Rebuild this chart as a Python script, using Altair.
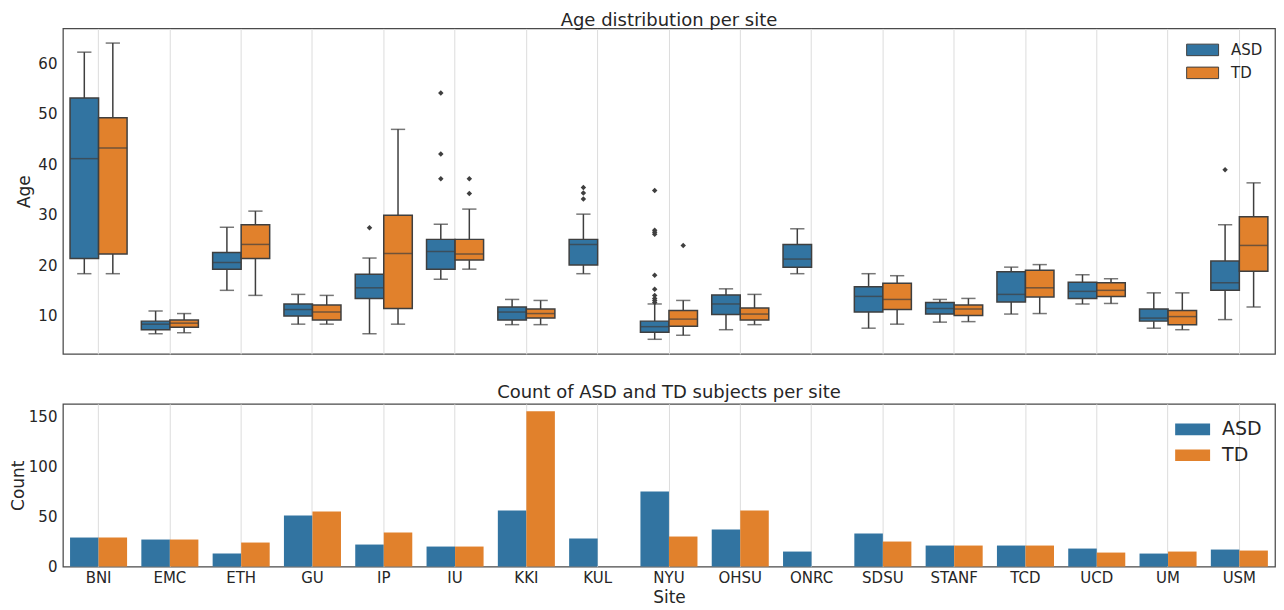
import altair as alt
import pandas as pd

sites = ["BNI", "EMC", "ETH", "GU", "IP", "IU", "KKI", "KUL", "NYU", "OHSU",
         "ONRC", "SDSU", "STANF", "TCD", "UCD", "UM", "USM"]
groups = ["ASD", "TD"]

# ---- Age box statistics (lower whisker, Q1, median, Q3, upper whisker)
asd_sites = sites
asd_lo = [18.3, 6.4, 15.0, 8.3, 6.4, 17.2, 8.2, 18.3, 5.3, 7.2, 18.3, 7.5, 8.7, 10.3, 12.3, 7.5, 9.2]
asd_q1 = [21.3, 7.2, 19.2, 9.9, 13.4, 19.2, 9.1, 20.0, 6.7, 10.2, 19.6, 10.7, 10.3, 12.7, 13.4, 8.9, 15.0]
asd_med = [41.1, 8.3, 20.5, 11.2, 15.5, 22.7, 10.7, 24.1, 7.8, 12.3, 21.2, 13.8, 11.4, 14.2, 14.8, 9.5, 16.5]
asd_q3 = [53.1, 8.9, 22.5, 12.3, 18.2, 25.1, 11.7, 25.1, 8.9, 14.1, 24.1, 15.7, 12.6, 18.7, 16.6, 11.3, 20.8]
asd_hi = [62.2, 10.9, 27.5, 14.2, 21.4, 28.1, 13.2, 30.1, 12.3, 15.3, 27.2, 18.3, 13.2, 19.6, 18.1, 14.5, 28.0]

td_sites = ["BNI", "EMC", "ETH", "GU", "IP", "IU", "KKI", "NYU", "OHSU",
            "SDSU", "STANF", "TCD", "UCD", "UM", "USM"]
td_lo = [18.3, 6.6, 14.0, 8.3, 8.3, 19.2, 8.2, 6.1, 8.2, 8.3, 8.8, 10.4, 12.4, 7.2, 11.7]
td_q1 = [22.2, 7.7, 21.3, 9.1, 11.4, 21.0, 9.5, 7.9, 9.1, 11.2, 10.0, 13.7, 13.8, 8.2, 18.8]
td_med = [43.2, 8.5, 24.1, 10.7, 22.3, 22.2, 10.4, 9.3, 10.3, 13.2, 11.3, 15.5, 15.0, 9.8, 23.9]
td_q3 = [49.2, 9.1, 28.0, 12.1, 29.9, 25.1, 11.3, 11.0, 11.5, 16.4, 12.1, 19.0, 16.5, 11.0, 29.6]
td_hi = [64.0, 10.4, 30.7, 14.0, 46.9, 31.1, 13.0, 13.0, 14.2, 17.9, 13.4, 20.1, 17.3, 14.5, 36.3]

# ---- outliers
out_site = ["IP", "IU", "IU", "IU", "IU", "IU", "KUL", "KUL", "KUL",
            "NYU", "NYU", "NYU", "NYU", "NYU", "NYU", "NYU", "NYU", "NYU", "NYU",
            "NYU", "USM"]
out_group = ["ASD", "ASD", "ASD", "ASD", "TD", "TD", "ASD", "ASD", "ASD",
             "ASD", "ASD", "ASD", "ASD", "ASD", "ASD", "ASD", "ASD", "ASD", "ASD",
             "TD", "ASD"]
out_age = [27.4, 54.1, 42.0, 37.1, 37.1, 34.2, 35.4, 34.3, 33.1,
           34.8, 26.9, 26.5, 26.1, 18.0, 15.2, 14.0, 13.4, 13.0, 12.6,
           23.9, 38.9]

# ---- subject counts
asd_count = [29, 27, 13, 51, 22, 20, 56, 28, 75, 37, 15, 33, 21, 21, 18, 13, 17]
td_count = [29, 27, 24, 55, 34, 20, 155, 0, 30, 56, 0, 25, 21, 21, 14, 15, 16]

box = pd.concat([
    pd.DataFrame({"site": asd_sites, "group": "ASD", "lo": asd_lo, "q1": asd_q1,
                  "med": asd_med, "q3": asd_q3, "hi": asd_hi}),
    pd.DataFrame({"site": td_sites, "group": "TD", "lo": td_lo, "q1": td_q1,
                  "med": td_med, "q3": td_q3, "hi": td_hi}),
], ignore_index=True)
outliers = pd.DataFrame({"site": out_site, "group": out_group, "age": out_age})
counts = pd.concat([
    pd.DataFrame({"site": sites, "group": "ASD", "count": asd_count}),
    pd.DataFrame({"site": sites, "group": "TD", "count": td_count}),
], ignore_index=True)

# ---- style
FONT = "DejaVu Sans"
TXT = "#262626"
EDGE = "#3f3f3f"
GRID = "#dcdcdc"
PALETTE = ["#3274a1", "#e1812c"]
W = 1214
H1 = 326
H2 = 163
step = W / len(sites)
box_w = step * 0.8 / 2
cap_w = box_w / 2

color_scale = alt.Scale(domain=groups, range=PALETTE)
x_scale = alt.Scale(domain=sites, paddingInner=0.2, paddingOuter=0.1)
off_scale = alt.Scale(domain=groups, paddingInner=0, paddingOuter=0)

x_top = alt.X("site:N", scale=x_scale, sort=sites,
              axis=alt.Axis(labels=False, ticks=False, domain=False, title=None,
                            grid=True, gridColor=GRID, gridWidth=1))
xoff = alt.XOffset("group:N", scale=off_scale)
age_scale = alt.Scale(domain=[2.4, 66.9], nice=False, zero=False)
age_axis = alt.Axis(values=[10, 20, 30, 40, 50, 60], title="Age", grid=False,
                    ticks=False, domain=False, labelPadding=6, minExtent=0,
                    titlePadding=4, labelFontSize=15, titleFontSize=17)

boxes = alt.Chart(box).mark_bar(stroke=EDGE, strokeWidth=1.5).encode(
    x=x_top, xOffset=xoff,
    y=alt.Y("q1:Q", scale=age_scale, axis=age_axis),
    y2="q3:Q",
    color=alt.Color("group:N", scale=color_scale, legend=alt.Legend(
        title=None, orient="none", legendX=1133, legendY=13,
        symbolType="M-2,-0.72H2V0.72H-2Z", symbolSize=256,
        symbolStrokeColor=EDGE, symbolStrokeWidth=1,
        labelFontSize=15, labelColor=TXT, labelFont=FONT,
        labelOffset=20, rowPadding=6, padding=0)),
)
whisk_lo = alt.Chart(box).mark_rule(color=EDGE, strokeWidth=1.5).encode(
    x=x_top, xOffset=xoff,
    y=alt.Y("lo:Q", scale=age_scale, axis=age_axis), y2="q1:Q")
whisk_hi = alt.Chart(box).mark_rule(color=EDGE, strokeWidth=1.5).encode(
    x=x_top, xOffset=xoff,
    y=alt.Y("q3:Q", scale=age_scale, axis=age_axis), y2="hi:Q")
cap_lo = alt.Chart(box).mark_tick(color=EDGE, size=cap_w, thickness=1.5,
                                  orient="horizontal").encode(
    x=x_top, xOffset=xoff, y=alt.Y("lo:Q", scale=age_scale, axis=age_axis))
cap_hi = alt.Chart(box).mark_tick(color=EDGE, size=cap_w, thickness=1.5,
                                  orient="horizontal").encode(
    x=x_top, xOffset=xoff, y=alt.Y("hi:Q", scale=age_scale, axis=age_axis))
median = alt.Chart(box).mark_tick(color=EDGE, size=box_w, thickness=1.5,
                                  orient="horizontal").encode(
    x=x_top, xOffset=xoff, y=alt.Y("med:Q", scale=age_scale, axis=age_axis))
fliers = alt.Chart(outliers).mark_point(shape="diamond", filled=True, size=30,
                                        color=EDGE, opacity=1).encode(
    x=x_top, xOffset=xoff, y=alt.Y("age:Q", scale=age_scale, axis=age_axis))

top = alt.layer(whisk_lo, whisk_hi, cap_lo, cap_hi, boxes, median, fliers).properties(
    width=W, height=H1,
    title=alt.TitleParams("Age distribution per site", fontSize=18, font=FONT,
                          color=TXT, fontWeight="normal", offset=-2))

x_bot = alt.X("site:N", scale=x_scale, sort=sites,
              axis=alt.Axis(title="Site", labelAngle=0, ticks=False, domain=False,
                            grid=True, gridColor=GRID, gridWidth=1, labelPadding=4,
                            titlePadding=4, labelFontSize=15, titleFontSize=17))
bars = alt.Chart(counts).mark_bar().encode(
    x=x_bot, xOffset=xoff,
    y=alt.Y("count:Q", scale=alt.Scale(domain=[0, 162.4], nice=False),
            axis=alt.Axis(values=[0, 50, 100, 150], title="Count", grid=False,
                          ticks=False, domain=False, labelPadding=6, minExtent=0,
                          titlePadding=1, labelFontSize=15, titleFontSize=17)),
    color=alt.Color("group:N", scale=color_scale, legend=alt.Legend(
        title=None, orient="none", legendX=1122, legendY=16,
        symbolType="M-2,-0.67H2V0.67H-2Z", symbolSize=306,
        symbolStrokeWidth=0,
        labelFontSize=19, labelColor=TXT, labelFont=FONT,
        labelOffset=20, rowPadding=6, padding=0)),
)
bottom = bars.properties(
    width=W, height=H2,
    title=alt.TitleParams("Count of ASD and TD subjects per site", fontSize=18,
                          font=FONT, color=TXT, fontWeight="normal", offset=2))

chart = alt.vconcat(top, bottom, spacing=28).resolve_scale(
    color="independent", x="independent", y="independent"
).resolve_legend(color="independent").properties(
    padding={"top": 3, "left": 0, "right": 0, "bottom": 0}
).configure(
    font=FONT
).configure_view(
    stroke="#4a4a4a", strokeWidth=1.25
).configure_axis(
    labelColor=TXT, titleColor=TXT, labelFont=FONT, titleFont=FONT,
    titleFontWeight="normal"
)

chart.save("out.html", embed_options={"renderer": "svg", "actions": False})
